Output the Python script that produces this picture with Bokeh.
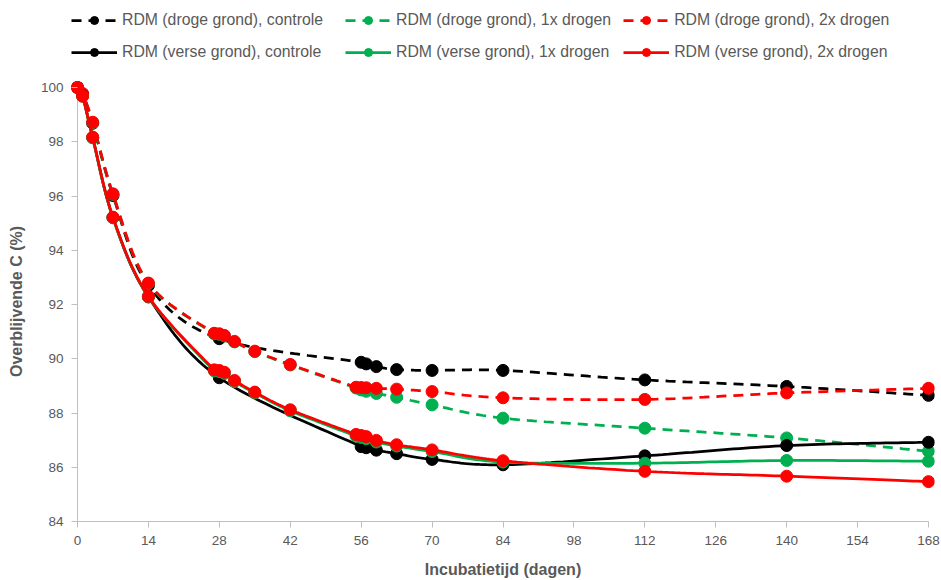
import numpy as np
from bokeh.plotting import figure
from bokeh.layouts import column
from bokeh.models import Legend, LegendItem, FixedTicker, Range1d
from bokeh.embed import file_html
from bokeh.resources import INLINE

# ---- data ----
days_behandeld = [0, 1, 3, 7, 14, 27, 28, 29, 31, 35, 42, 55, 56, 57, 59, 63, 70, 84, 112, 140, 168]
days_controle = [0, 1, 3, 7, 14, 28, 56, 57, 59, 63, 70, 84, 112, 140, 168]

droog_controle = [100, 99.75, 98.68, 96.02, 92.70, 90.74, 89.87, 89.81, 89.71, 89.60, 89.57, 89.57, 89.22, 88.98, 88.65]
droog_1x = [100, 99.76, 98.70, 96.06, 92.77, 90.92, 90.90, 90.84, 90.62, 90.26, 89.77, 88.92, 88.85, 88.80, 88.72, 88.58, 88.30, 87.81, 87.44, 87.08, 86.59]
droog_2x = [100, 99.78, 98.72, 96.08, 92.79, 90.94, 90.92, 90.86, 90.64, 90.28, 89.79, 88.95, 88.94, 88.93, 88.91, 88.88, 88.79, 88.56, 88.50, 88.74, 88.91]
verse_controle = [100, 99.70, 98.15, 95.20, 92.28, 89.30, 86.76, 86.72, 86.63, 86.50, 86.29, 86.09, 86.42, 86.80, 86.92]
verse_1x = [100, 99.68, 98.15, 95.20, 92.28, 89.55, 89.53, 89.46, 89.16, 88.74, 88.08, 87.15, 87.10, 87.05, 86.93, 86.78, 86.58, 86.19, 86.15, 86.25, 86.22]
verse_2x = [100, 99.68, 98.17, 95.22, 92.30, 89.59, 89.57, 89.50, 89.20, 88.77, 88.12, 87.21, 87.17, 87.13, 86.99, 86.83, 86.64, 86.24, 85.85, 85.67, 85.47]

labels = [
    "RDM (droge grond), controle",
    "RDM (droge grond), 1x drogen",
    "RDM (droge grond), 2x drogen",
    "RDM (verse grond), controle",
    "RDM (verse grond), 1x drogen",
    "RDM (verse grond), 2x drogen",
]
x_ticks = list(range(0, 169, 14))
y_ticks = list(range(84, 101, 2))

BLACK, GREEN, RED = "#000000", "#00B050", "#FF0000"
GREY = "#595959"
AXIS_GREY = "#BFBFBF"
FONT = "Liberation Sans"
DASH = "10 7"


def smooth(xs, ys, n=24):
    """Excel-style smoothed line (cardinal Bezier through the points)."""
    pts = np.column_stack([xs, ys]).astype(float)
    out_x, out_y = [pts[0, 0]], [pts[0, 1]]
    t = np.linspace(0, 1, n + 1)[1:][:, None]
    for i in range(len(pts) - 1):
        p0 = pts[i - 1] if i > 0 else pts[i]
        p1, p2 = pts[i], pts[i + 1]
        p3 = pts[i + 2] if i + 2 < len(pts) else pts[i + 1]
        c1 = p1 + (p2 - p0) / 6.0
        c2 = p2 - (p3 - p1) / 6.0
        b = ((1 - t) ** 3) * p1 + 3 * ((1 - t) ** 2) * t * c1 + 3 * (1 - t) * t ** 2 * c2 + t ** 3 * p2
        out_x.extend(b[:, 0]); out_y.extend(b[:, 1])
    return out_x, out_y


series = [
    (days_controle, droog_controle, BLACK, "dashed"),
    (days_behandeld, droog_1x, GREEN, "dashed"),
    (days_behandeld, droog_2x, RED, "dashed"),
    (days_controle, verse_controle, BLACK, "solid"),
    (days_behandeld, verse_1x, GREEN, "solid"),
    (days_behandeld, verse_2x, RED, "solid"),
]

# ---- main chart ----
PX_PAD = 6.0
plot_w_px = 851.0   # width of the 0..168 span
plot_h_px = 434.0   # height of the 84..100 span
x_pad = PX_PAD / plot_w_px * (x_ticks[-1] - x_ticks[0])
y_pad = PX_PAD / plot_h_px * (y_ticks[-1] - y_ticks[0])

p = figure(width=941, height=505, output_backend="svg", toolbar_location=None,
           x_range=Range1d(x_ticks[0] - x_pad, x_ticks[-1] + x_pad),
           y_range=Range1d(y_ticks[0], y_ticks[-1] + y_pad),
           min_border_left=71, min_border_right=7, min_border_top=6, min_border_bottom=59)
p.outline_line_color = None
p.xgrid.grid_line_color = None
p.ygrid.grid_line_color = None

# vertical axis line at x = 0
p.segment(x0=[x_ticks[0]], y0=[y_ticks[0]], x1=[x_ticks[0]], y1=[y_ticks[-1]],
          line_color=AXIS_GREY, line_width=1)

for xs, ys, col, dash in series:
    sx, sy = smooth(xs, ys)
    p.line(sx, sy, line_color=col, line_width=2.75,
           line_dash=DASH if dash == "dashed" else "solid")
    p.scatter(xs, ys, size=12, marker="circle", fill_color=col, line_color=col)

for ax in (p.xaxis[0], p.yaxis[0]):
    ax.axis_line_color = AXIS_GREY
    ax.major_tick_line_color = AXIS_GREY
    ax.minor_tick_line_color = None
    ax.major_label_text_color = GREY
    ax.major_label_text_font = FONT
    ax.major_label_text_font_size = "13.5px"
    ax.axis_label_text_font = FONT
    ax.axis_label_text_font_size = "16px"
    ax.axis_label_text_font_style = "bold"
    ax.axis_label_text_color = GREY

p.xaxis.bounds = (x_ticks[0], x_ticks[-1])
p.xaxis.major_tick_out = 6
p.xaxis.major_tick_in = 0
p.yaxis.axis_line_color = None
p.yaxis.major_tick_out = 0
p.yaxis.major_tick_in = 6
p.xaxis.ticker = FixedTicker(ticks=x_ticks)
p.yaxis.ticker = FixedTicker(ticks=y_ticks)
p.xaxis.axis_label = "Incubatietijd (dagen)"
p.yaxis.axis_label = "Overblijvende C (%)"
p.xaxis.major_label_standoff = 8
p.yaxis.major_label_standoff = 8
p.xaxis.axis_label_standoff = 13
p.yaxis.axis_label_standoff = 13

# ---- legend strip (its frame is aligned with the chart frame by the column) ----
lg = figure(width=941, height=75, output_backend="svg", toolbar_location=None,
            x_axis_type=None, y_axis_type=None, min_border=0,
            min_border_left=71, min_border_right=7,
            x_range=Range1d(0, 1), y_range=Range1d(0, 1))
lg.outline_line_color = None
lg.xgrid.grid_line_color = None
lg.ygrid.grid_line_color = None

items = []
for (xs, ys, col, dash), lab in zip(series, labels):
    # same data, but outside this strip's ranges: only the legend glyphs show
    r_line = lg.line(xs, ys, line_color=col, line_width=2.75,
                     line_dash=DASH if dash == "dashed" else "solid")
    r_pts = lg.scatter(xs, ys, size=11, marker="circle", fill_color=col, line_color=col)
    items.append(LegendItem(label=lab, renderers=[r_line, r_pts]))

legend = Legend(items=items, ncols=3, orientation="horizontal",
                location=(0, 13), padding=0, margin=0, spacing=12,
                glyph_width=46, glyph_height=20, label_width=211, label_height=20,
                label_standoff=5, label_text_font=FONT, label_text_font_size="15.8px",
                label_text_color=GREY, background_fill_alpha=0, border_line_color=None)
lg.add_layout(legend, "center")

layout = column(lg, p, spacing=0)
open("out.html", "w").write(file_html(layout, INLINE))
